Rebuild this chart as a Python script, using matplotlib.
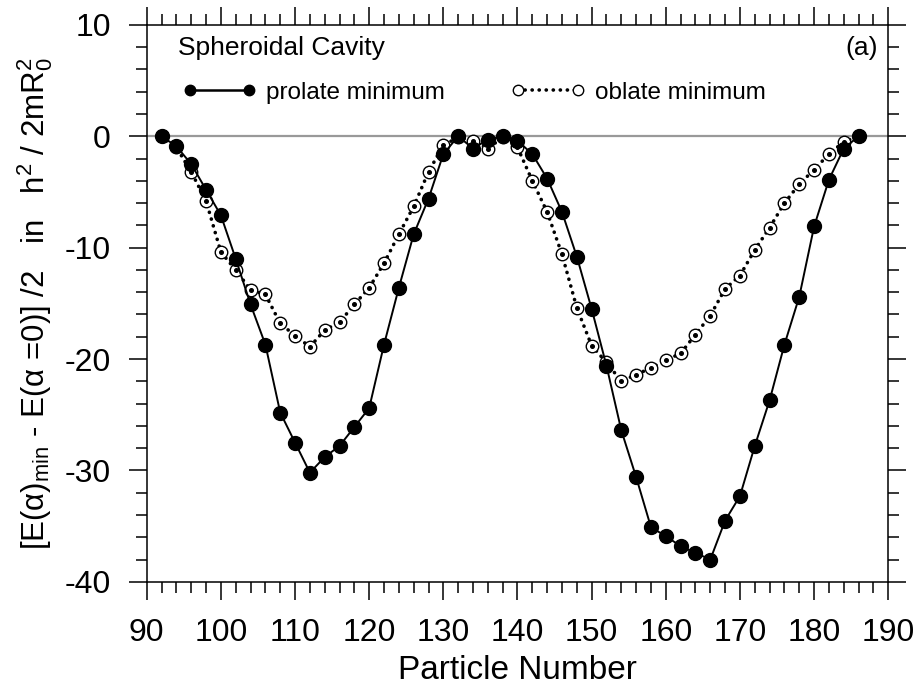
import numpy as np
import matplotlib
matplotlib.use("Agg")
import matplotlib.pyplot as plt
from matplotlib.ticker import MultipleLocator
from matplotlib.legend_handler import HandlerLine2D

plt.rcParams['font.family'] = ['Liberation Sans', 'DejaVu Sans']
plt.rcParams['mathtext.fontset'] = 'custom'
plt.rcParams['mathtext.rm'] = 'Liberation Sans'
plt.rcParams['mathtext.it'] = 'Liberation Sans:italic'
plt.rcParams['axes.unicode_minus'] = False

# Data
particle_number = np.arange(92, 187, 2)
prolate = [0.0, -0.9, -2.5, -4.8, -7.1, -11.0, -15.1, -18.7, -24.8, -27.5,
           -30.2, -28.8, -27.8, -26.1, -24.4, -18.7, -13.6, -8.8, -5.6, -1.6,
           0.0, -1.1, -0.3, 0.0, -0.4, -1.6, -3.8, -6.8, -10.8, -15.5,
           -20.6, -26.4, -30.6, -35.1, -35.9, -36.8, -37.4, -38.0, -34.5, -32.3,
           -27.8, -23.7, -18.7, -14.4, -8.1, -3.9, -1.1, 0.0]
oblate = [0.0, -1.0, -3.2, -5.8, -10.4, -12.0, -13.8, -14.2, -16.8, -17.9,
          -18.9, -17.4, -16.7, -15.1, -13.6, -11.4, -8.8, -6.3, -3.2, -0.8,
          -0.1, -0.4, -1.1, -0.1, -1.0, -4.0, -6.8, -10.6, -15.4, -18.8,
          -20.3, -22.0, -21.4, -20.8, -20.1, -19.5, -17.8, -16.1, -13.7, -12.5,
          -10.2, -8.2, -6.0, -4.3, -3.0, -1.6, -0.5, 0.0]

DOTS = (0, (0.05, 1.9))

fig = plt.figure(figsize=(9.2, 6.91), dpi=100)
ax = fig.add_axes([0.1595, 0.158, 0.806, 0.806])

ax.axhline(0, color="#999999", lw=1.6, zorder=1)

# oblate: dotted line + open circles with centre dot
ax.plot(particle_number, oblate, color="black", lw=2.6,
        linestyle=DOTS, dash_capstyle="round", zorder=2)
ax.plot(particle_number, oblate, linestyle="none", marker="o", ms=9,
        mfc="white", mec="black", mew=1.0, zorder=3)
ax.plot(particle_number, oblate, linestyle="none", marker="o", ms=2.6,
        mfc="black", mec="black", zorder=4)

# prolate: solid line + filled circles
ax.plot(particle_number, prolate, color="black", lw=1.4, marker="o", ms=10,
        mfc="black", mec="black", zorder=5)

# legend proxies
h_pro, = ax.plot([], [], color="black", lw=1.8, marker="o", ms=7.5)
h_obl, = ax.plot([], [], color="black", lw=2.6, linestyle=DOTS,
                 dash_capstyle="round", marker="o", ms=7.5, mfc="white",
                 mec="black", mew=1.0)
ax.legend([h_pro, h_obl], ["prolate minimum", "oblate minimum"], ncol=2,
          numpoints=2, frameon=False, fontsize=17.5, handlelength=2.45,
          columnspacing=3.0, handletextpad=0.7, borderpad=0,
          borderaxespad=0, loc="center left", bbox_to_anchor=(0.058, 0.878),
          handler_map={h_pro: HandlerLine2D(marker_pad=0),
                       h_obl: HandlerLine2D(marker_pad=0)})

ax.text(0.042, 0.959, "Spheroidal Cavity", transform=ax.transAxes,
        fontsize=19, ha="left", va="center")
ax.text(0.986, 0.959, "(a)", transform=ax.transAxes,
        fontsize=19, ha="right", va="center")

ax.set_xlim(90, 190)
ax.set_ylim(-40, 10)
ax.xaxis.set_major_locator(MultipleLocator(10))
ax.xaxis.set_minor_locator(MultipleLocator(2))
ax.yaxis.set_major_locator(MultipleLocator(10))
ax.yaxis.set_minor_locator(MultipleLocator(2))
ax.tick_params(which="both", direction="out", top=True, right=True,
               width=1.1, labelsize=23, pad=13)
ax.tick_params(which="major", length=13)
ax.tick_params(which="minor", length=8)
for s in ax.spines.values():
    s.set_linewidth(1.1)

ax.set_xlabel("Particle Number", fontsize=24, labelpad=5)
ax.set_ylabel(r"[E(α)$_{\mathrm{min}}$ - E(α =0)] /2   in   h$^2$ / 2mR$_0^2$",
              fontsize=22.5, labelpad=7)

fig.savefig("out.png", dpi=100)
